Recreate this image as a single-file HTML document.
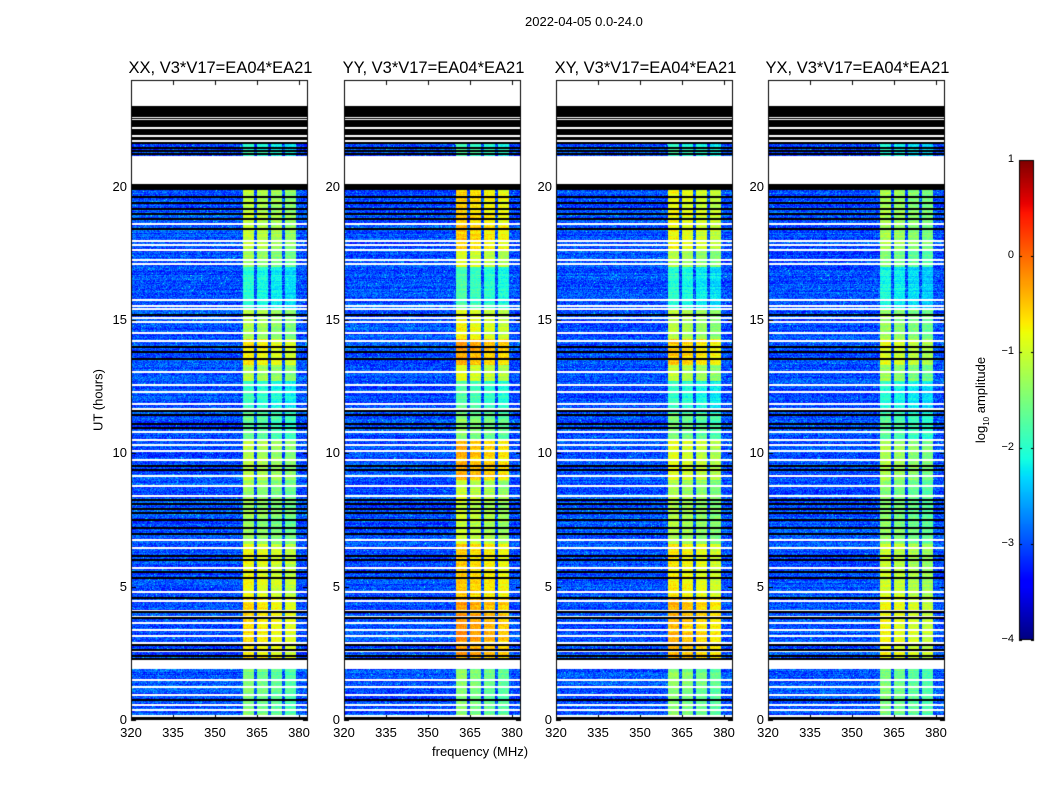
<!DOCTYPE html>
<html><head><meta charset="utf-8">
<style>
body{margin:0;background:#fff;}
#wrap{position:relative;width:1050px;height:800px;overflow:hidden;font-family:"Liberation Sans",sans-serif;color:#000;}
.t{position:absolute;white-space:nowrap;}
canvas{position:absolute;left:0;top:0;}
</style></head><body>
<div id="wrap">
<canvas id="cv" width="1050" height="800"></canvas>
<div class="t" style="left:525px;top:14px;font-size:13px;">2022-04-05 0.0-24.0</div>
<div id="labels"></div>
<div class="t" style="left:432px;top:744px;font-size:13px;">frequency (MHz)</div>
<div class="t" style="left:98px;top:400px;font-size:13px;transform:translate(-50%,-50%) rotate(-90deg);">UT (hours)</div>
<div class="t" style="left:982px;top:400px;font-size:13px;transform:translate(-50%,-50%) rotate(-90deg);">log<sub style="font-size:8px">10</sub> amplitude</div>
</div>
<script>
const panelTitles=["XX, V3*V17=EA04*EA21","YY, V3*V17=EA04*EA21","XY, V3*V17=EA04*EA21","YX, V3*V17=EA04*EA21"];
const xTicks=[320,335,350,365,380];
const yTicks=[0,5,10,15,20];
const cbTicks=[1,0,-1,-2,-3,-4];
const bandStarts=[360,365,370,375];
const bandWidth=4.1;
const bandOffsets=[0.1,0,-0.1,-0.2];
const segStart=[0,2.3,4.6,6.6,9.0,10.5,11.5,12.7,13.3,14.3,15.4,17.0,17.6,19.9];
const levelXX=[-1.6,-0.7,-0.9,-1.4,-1.2,-1.7,-2.0,-1.3,-0.8,-1.3,-2.1,-1.4,-1.2,-2.0];
const levelYY=[-1.5,-0.35,-0.6,-1.1,-0.5,-1.5,-1.8,-1.0,-0.4,-0.9,-1.9,-1.0,-0.6,-1.9];
const levelXY=[-1.5,-0.5,-0.8,-1.3,-1.0,-1.6,-2.0,-1.2,-0.6,-1.2,-2.1,-1.3,-0.9,-2.0];
const levelYX=[-1.6,-0.9,-1.1,-1.5,-1.3,-1.8,-2.1,-1.4,-1.0,-1.4,-2.2,-1.5,-1.3,-2.1];
const levels=[levelXX,levelYY,levelXY,levelYX];
const backgroundLevel=-3.0;
const whiteLines=[18.6,17.96,17.81,17.63,17.25,17.1,15.75,15.53,15.41,15.08,14.93,14.51,14.21,13.05,12.56,12.3,11.85,11.66,10.8,10.5,10.31,10.09,9.75,9.15,8.78,8.4,6.75,6.45,5.7,4.8,4.46,4.09,3.86,3.64,3.38,3.15,2.89,2.59,1.5,1.24,0.94,0.56,0.38,0.15,22.6,22.52,22.2,21.9,21.72];
const blackLines=[19.61,19.39,19.16,18.98,18.79,18.41,15.19,13.99,13.8,13.54,11.59,11.44,11.1,10.95,9.53,9.38,8.25,8.1,7.91,7.76,7.5,7.2,6.98,6.15,6.0,5.55,5.33,4.58,4.05,3.83,2.81,2.63,2.4,2.29,0.75,0.08,21.45,21.34,21.23];
const whiteBlocks=[[23.03,24],[20.1,21.15],[1.92,2.25]];
const blackBlocks=[[21.6,23.03],[19.88,20.1]];

const lefts=[131,344,556,768], TOP=80, H=640, W=177;
const fx=(p,f)=>lefts[p]+(f-320)*2.8;
const hy=h=>720-h*(H/24);
function jet(t){t=Math.max(0,Math.min(1,t));
 const L=(pts)=>{for(let i=1;i<pts.length;i++){if(t<=pts[i][0]){const a=pts[i-1],b=pts[i];return a[1]+(b[1]-a[1])*(t-a[0])/(b[0]-a[0]);}}return pts[pts.length-1][1];};
 return [L([[0,0],[0.35,0],[0.66,1],[0.89,1],[1,0.5]]),L([[0,0],[0.125,0],[0.375,1],[0.64,1],[0.91,0],[1,0]]),L([[0,0.5],[0.11,1],[0.34,1],[0.65,0],[1,0]])];}
function hash(a,b){let h=(a*374761393+b*668265263)^0x5bd1e995;h=(h^(h>>>13))*1274126177;h=h^(h>>>16);return ((h>>>0)%10000)/10000;}
const cv=document.getElementById('cv'),ctx=cv.getContext('2d');
ctx.fillStyle='#fff';ctx.fillRect(0,0,1050,800);
for(let p=0;p<4;p++){
 const img=ctx.createImageData(W,H);
 for(let r=0;r<H;r++){
  const h=(H-r-0.5)*24/H;
  let seg=0;for(let i=0;i<segStart.length;i++)if(h>=segStart[i])seg=i;
  const rowN=(hash(r,p*7+1)-0.5)*0.35;
  let mode=0;
  for(const b of whiteBlocks)if(h>=b[0]&&h<b[1])mode=1;
  for(const b of blackBlocks)if(h>=b[0]&&h<b[1])mode=2;
  for(const w of whiteLines)if(Math.abs(hy(w)-(TOP+r+0.5))<0.8)mode=1;
  for(const w of blackLines)if(Math.abs(hy(w)-(TOP+r+0.5))<0.8)mode=2;
  for(let c=0;c<W;c++){
   const i=(r*W+c)*4;img.data[i+3]=255;
   if(mode==1){img.data[i]=img.data[i+1]=img.data[i+2]=255;continue;}
   if(mode==2){img.data[i]=img.data[i+1]=img.data[i+2]=0;continue;}
   const f=320+(c+0.5)/2.8;
   let v=backgroundLevel+rowN+(hash(c+p*1000,r)-0.5)*0.7+(hash(r,c)>0.985?0.7:0);
   for(let b=0;b<4;b++){if(f>=bandStarts[b]&&f<bandStarts[b]+bandWidth){
     v=Math.max(v,levels[p][seg]+bandOffsets[b]+rowN*0.8+(hash(c,r+p*77)-0.5)*0.35);}}
   const col=jet((v+4)/5);
   img.data[i]=col[0]*255;img.data[i+1]=col[1]*255;img.data[i+2]=col[2]*255;
  }
 }
 ctx.putImageData(img,lefts[p],TOP);
 ctx.strokeStyle='#000';ctx.lineWidth=1;
 ctx.strokeRect(lefts[p]+0.5,TOP+0.5,W-1,H-1);
 ctx.beginPath();
 for(const t of xTicks){const x=Math.round(fx(p,t))+0.5;ctx.moveTo(x,720);ctx.lineTo(x,715);ctx.moveTo(x,80);ctx.lineTo(x,85);}
 for(const t of yTicks){const y=Math.round(hy(t))+0.5;ctx.moveTo(lefts[p],y);ctx.lineTo(lefts[p]+5,y);ctx.moveTo(lefts[p]+W,y);ctx.lineTo(lefts[p]+W-5,y);}
 ctx.stroke();
}
const cbX=1019,cbW=15,cbT=160,cbH=480;
for(let r=0;r<cbH;r++){const c=jet(1-(r+0.5)/cbH);ctx.fillStyle=`rgb(${c[0]*255|0},${c[1]*255|0},${c[2]*255|0})`;ctx.fillRect(cbX,cbT+r,cbW,1);}
ctx.strokeRect(cbX+0.5,cbT+0.5,cbW-1,cbH-1);
ctx.beginPath();
for(const t of cbTicks){const y=Math.round(cbT+(1-t)/5*cbH)+0.5;ctx.moveTo(cbX,y);ctx.lineTo(cbX+3,y);ctx.moveTo(cbX+cbW,y);ctx.lineTo(cbX+cbW-3,y);}
ctx.stroke();
const lab=document.getElementById('labels');
function add(txt,style,name){const d=document.createElement('div');d.className='t';d.textContent=txt;d.setAttribute('style',style);


lab.appendChild(d);}
for(let p=0;p<4;p++){
 add(panelTitles[p],`left:${lefts[p]+W/2+1}px;top:59px;font-size:16.5px;transform:translateX(-50%);`,'panel-title');
 for(const t of xTicks)add(String(t),`left:${fx(p,t)}px;top:725px;font-size:13px;transform:translateX(-50%);`,'x-tick-label');
 for(const t of yTicks)add(String(t),`left:${lefts[p]-4}px;top:${hy(t)-8}px;font-size:13px;transform:translateX(-100%);`,'y-tick-label');
}
for(const t of cbTicks)add(t<0?'\u2212'+(-t):String(t),`left:${cbX-5}px;top:${cbT+(1-t)/5*cbH-7}px;font-size:11px;transform:translateX(-100%);`,'colorbar-tick-label');
</script>
</body></html>
